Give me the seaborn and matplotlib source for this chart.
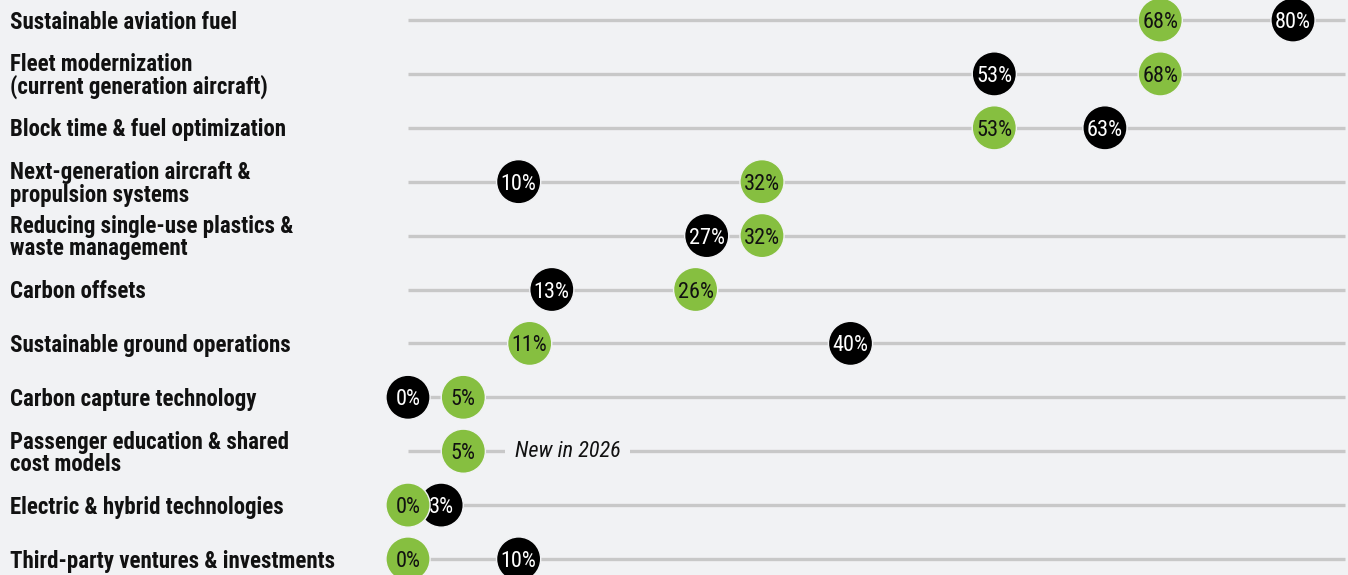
import matplotlib
matplotlib.use("Agg")
import matplotlib.pyplot as plt
import matplotlib.transforms as mtransforms
import numpy as np
import pandas as pd
import seaborn as sns

# ---- data -------------------------------------------------------------
categories = [
    "Sustainable aviation fuel",
    "Fleet modernization\n(current generation aircraft)",
    "Block time & fuel optimization",
    "Next-generation aircraft &\npropulsion systems",
    "Reducing single-use plastics &\nwaste management",
    "Carbon offsets",
    "Sustainable ground operations",
    "Carbon capture technology",
    "Passenger education & shared\ncost models",
    "Electric & hybrid technologies",
    "Third-party ventures & investments",
]
# green series (current survey)
green_values = [68, 68, 53, 32, 32, 26, 11, 5, 5, 0, 0]
# black series (previous survey); None = not asked
black_values = [80, 53, 63, 10, 27, 13, 40, 0, None, 3, 10]
new_note = "New in 2026"
new_note_row = 8

# ---- style -------------------------------------------------------------
BG = "#f1f2f4"
GREEN = "#86bf40"
BLACK = "#000000"
LINE = "#c8c8c8"
INK = "#111111"

sns.set_theme(style="white")
plt.rcParams["font.family"] = ["Roboto Condensed", "DejaVu Sans"]

W, H = 1348, 575
fig = plt.figure(figsize=(W / 100, H / 100), dpi=100, facecolor=BG)
ax = fig.add_axes([0, 0, 1, 1])
ax.set_facecolor(BG)

# axis geometry: 0% sits at x=408px, 80% at x=1293px
px_per_pct = (1293 - 408) / 80
x0 = -408 / px_per_pct
x1 = (W - 408) / px_per_pct
row_px = (559 - 20) / 10
y_top = -20 / row_px
y_bot = (H - 20) / row_px
ax.set_xlim(x0, x1)
ax.set_ylim(y_bot, y_top)
ax.axis("off")

n = len(categories)
rows = np.arange(n)

# guide lines
ax.hlines(rows, 0, x1 - 3 / px_per_pct, color=LINE, lw=2.4, zorder=1)

# dot table (black first so green sits on top where they touch)
records = []
for i in range(n):
    if black_values[i] is not None:
        records.append({"row": i, "value": black_values[i], "series": "black"})
for i in range(n):
    records.append({"row": i, "value": green_values[i], "series": "green"})
df = pd.DataFrame(records)

sns.scatterplot(
    data=df, x="value", y="row", hue="series",
    palette={"black": BLACK, "green": GREEN},
    s=1010, edgecolor=BG, linewidth=1.0, legend=False, ax=ax, zorder=3,
)

for rec in records:
    txt_color = "white" if rec["series"] == "black" else INK
    ax.text(rec["value"], rec["row"], f"{rec['value']}%", ha="center",
            va="center_baseline", fontsize=16, color=txt_color, zorder=5)

# category labels, nudged slightly below the row centre
label_tf = mtransforms.blended_transform_factory(
    fig.transFigure,
    ax.transData + mtransforms.ScaledTranslation(0, -1.5 / 72, fig.dpi_scale_trans),
)
for i, cat in enumerate(categories):
    ax.text(10 / W, i, cat, transform=label_tf, ha="left", va="center",
            fontsize=16.5, fontweight="bold", color=INK, linespacing=0.97)

# note next to the new item
ax.annotate(
    new_note, xy=(green_values[new_note_row], new_note_row),
    xytext=(37, 0), textcoords="offset points", ha="left", va="center",
    fontsize=16, fontstyle="italic", color=INK, zorder=4,
    bbox=dict(boxstyle="square,pad=0.45", fc=BG, ec="none"),
)

fig.savefig("out.png", dpi=100, facecolor=BG)
